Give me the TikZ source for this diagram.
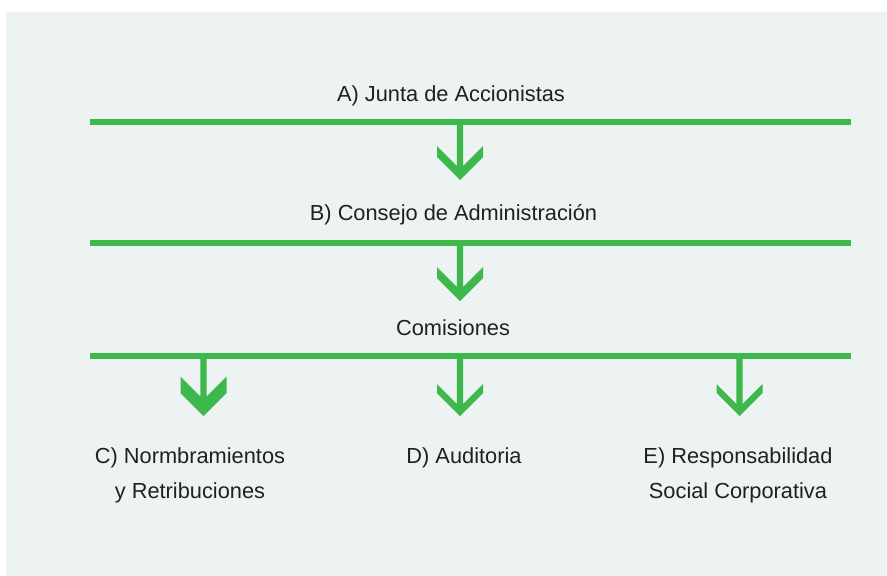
\documentclass[tikz,border=0pt]{standalone}
\usepackage{fontspec}
\setmainfont{Liberation Sans}
\definecolor{bgc}{HTML}{EDF3F3}
\definecolor{grn}{HTML}{3DB84A}
\definecolor{txt}{HTML}{231F20}
\begin{document}
\begin{tikzpicture}[x=1pt,y=-1pt,
  bar/.style={draw=grn,line width=6pt},
  lbl/.style={text=txt,font=\fontsize{21.8}{35}\selectfont,inner sep=0pt,anchor=base,align=center},
  pics/chev/.style 2 args={code={\fill[grn] (-3.2,-1) -- (-3.2,#1+20) -- (-23,#1) -- (-23,#2-23) -- (0,#2) -- (23,#2-23) -- (23,#1) -- (3.2,#1+20) -- (3.2,-1) -- cycle;}}]
\useasboundingbox (0,0) rectangle (887,576);
\fill[bgc] (6,12) rectangle (887,576);
% bars
\coordinate (l1w) at (90,122);  \coordinate (l1e) at (851,122);
\coordinate (l2w) at (90,243);  \coordinate (l2e) at (851,243);
\coordinate (l3w) at (90,355.5);\coordinate (l3e) at (851,355.5);
\draw[bar] (l1w) -- (l1e);
\draw[bar] (l2w) -- (l2e);
\draw[bar] (l3w) -- (l3e);
% labels
\node[lbl] (nA) at (451,101.7) {A) Junta de Accionistas};
\node[lbl] (nB) at (453.5,220) {B) Consejo de Administración};
\node[lbl] (nCom) at (453,335) {Comisiones};
\node[lbl] (nC) at (190,498) {C) Normbramientos\\y Retribuciones};
\node[lbl] (nD) at (464,463) {D) Auditoria};
\node[lbl] (nE) at (738,498) {E) Responsabilidad\\Social Corporativa};
% arrows
\coordinate (a1) at (460,122);
\coordinate (a2) at (460,243);
\coordinate (a3) at (203.5,355.5);
\coordinate (a4) at (460,355.5);
\coordinate (a5) at (739.5,355.5);
\pic at (a1) {chev={24}{58}};
\pic at (a2) {chev={24}{58}};
\pic at (a3) {chev={21}{60.5}};
\pic at (a4) {chev={28.5}{60.5}};
\pic at (a5) {chev={28.5}{60.5}};
\end{tikzpicture}
\end{document}
